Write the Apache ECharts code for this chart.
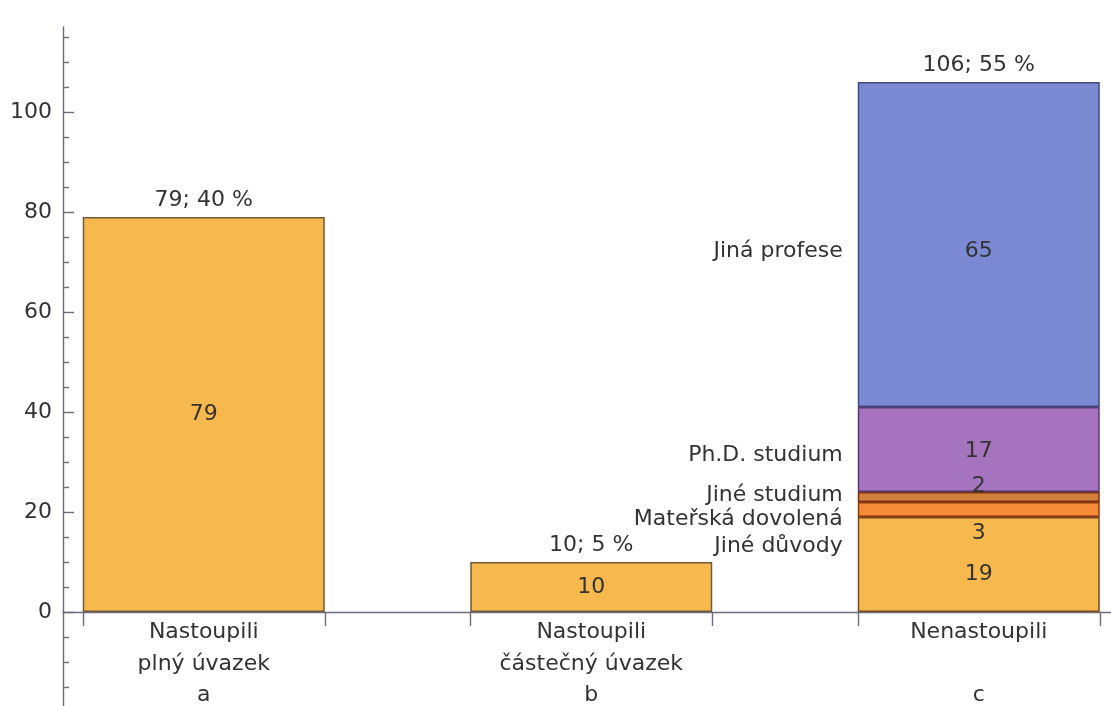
<!DOCTYPE html>
<html>
<head>
<meta charset="utf-8">
<script src="https://cdn.jsdelivr.net/npm/echarts@6/dist/echarts.min.js"></script>
<style>
  html, body { margin: 0; padding: 0; background: #ffffff; }
  #chart { width: 1111px; height: 706px; }
</style>
</head>
<body>
<div id="chart"></div>
<script>
// Category labels under the bars (three lines each)
const categories = ['Nastoupili\nplný úvazek\na', 'Nastoupili\nčástečný úvazek\nb', 'Nenastoupili\n\nc'];
// Graduates who started (full-time, part-time)
const startedValues = [79, 10];
// Reasons for not starting, stacked bottom to top
const reasonNames = ['Jiné důvody', 'Mateřská dovolená', 'Jiné studium', 'Ph.D. studium', 'Jiná profese'];
const reasonValues = [19, 3, 2, 17, 65];
// Share of each column as printed above it
const percentLabels = [40, 5, 55];
// Y axis tick labels
const yTickValues = [0, 20, 40, 60, 80, 100];

const totals = [startedValues[0], startedValues[1], reasonValues.reduce((s, v) => s + v, 0)];

// ---- layout ----
const BAND = 387.5;          // width of one category band in px
const BARS_LEFT = 10;        // left edge of the band area
const AXIS_X = 63;           // position of the vertical axis line
const TOP = 27;
const Y_MIN = -20, Y_MAX = 117;
const PX_PER_UNIT = 5;
const ABOVE_ZERO_H = Y_MAX * PX_PER_UNIT;          // plot height from 0 up to the top
const FULL_H = (Y_MAX - Y_MIN) * PX_PER_UNIT;      // vertical axis incl. the part below 0
const BAR_W = 242;
const HALF_BAR = (BAR_W / 2) / BAND;
const X_MIN = -0.5 + (AXIS_X - BARS_LEFT) / BAND;
const X_MAX = -0.5 + (1111 - BARS_LEFT) / BAND;

const FONT = 'DejaVu Sans';
const FS = 22;
const TEXT = '#333333';
const AXIS_COLOR = '#6c6c78';

const yellow = '#F7B94E';
const reasonColors = ['#F7B94E', '#F68B37', '#D4803D', '#A674BE', '#7C8AD4'];
const reasonBorders = ['#7a4a22', '#8a3a12', '#7a3214', '#5a3a6e', '#3f4a80'];
// vertical nudges keep the small segment labels apart
const numberShift = [10, 24, -11, 2, 7];
const nameShift = [-18, 10, -2, 6, 7];

const minorTicks = [];
for (let v = -15; v <= 115; v += 5) if (v % 20 !== 0) minorTicks.push(v);
const barEdges = [];
for (let i = 0; i < categories.length; i++) barEdges.push(i - HALF_BAR, i + HALF_BAR);

const chart = echarts.init(document.getElementById('chart'), null, { renderer: 'canvas' });

const barBase = {
  type: 'bar', xAxisIndex: 0, yAxisIndex: 0,
  barWidth: BAR_W, barGap: '-100%', animation: false, silent: true
};
const pad = v => ['-', '-', v];

const series = [];
series.push(Object.assign({}, barBase, {
  name: 'Nastoupili', stack: 'main',
  data: [startedValues[0], startedValues[1], '-'],
  itemStyle: { color: yellow, borderColor: '#6e5a3c', borderWidth: 1.5 },
  label: { show: true, position: 'inside', fontFamily: FONT, fontSize: FS, color: TEXT }
}));
reasonNames.forEach((name, i) => {
  series.push(Object.assign({}, barBase, {
    name: name, stack: 'main', data: pad(reasonValues[i]),
    itemStyle: { color: reasonColors[i], borderColor: reasonBorders[i], borderWidth: 1.5 },
    label: { show: true, position: 'inside', offset: [0, numberShift[i]],
      fontFamily: FONT, fontSize: FS, color: TEXT }
  }));
});
// names to the left of the stacked column
reasonNames.forEach((name, i) => {
  series.push(Object.assign({}, barBase, {
    name: name + ' ', stack: 'names', data: pad(reasonValues[i]),
    itemStyle: { color: 'rgba(0,0,0,0)', borderWidth: 0 },
    label: { show: true, position: [-15, '50%'], align: 'right', verticalAlign: 'middle',
      offset: [0, nameShift[i]], formatter: name,
      fontFamily: FONT, fontSize: FS, color: TEXT }
  }));
});
// totals with percentages above each column
series.push(Object.assign({}, barBase, {
  name: 'total', data: totals,
  itemStyle: { color: 'rgba(0,0,0,0)', borderWidth: 0 },
  label: { show: true, position: 'top', distance: 6,
    formatter: p => totals[p.dataIndex] + '; ' + percentLabels[p.dataIndex] + ' %',
    fontFamily: FONT, fontSize: FS, color: TEXT }
}));

const hiddenValueAxis = (gridIndex, min, max) => ({
  gridIndex, type: 'value', min, max, show: false,
  axisLine: { show: false, onZero: false }
});

chart.setOption({
  animation: false,
  backgroundColor: '#ffffff',
  grid: [
    // bars and category captions, bottom edge at y = 0
    { left: BARS_LEFT, width: BAND * categories.length, top: TOP, height: ABOVE_ZERO_H,
      outerBoundsMode: 'none', containLabel: false },
    // horizontal axis line with ticks at the bar edges
    { left: AXIS_X, right: 0, top: TOP, height: ABOVE_ZERO_H,
      outerBoundsMode: 'none', containLabel: false },
    // vertical axis, continuing below zero
    { left: AXIS_X, right: 0, top: TOP, height: FULL_H,
      outerBoundsMode: 'none', containLabel: false }
  ],
  xAxis: [
    {
      gridIndex: 0, type: 'category', data: categories,
      axisLine: { show: false, onZero: false },
      axisTick: { show: false },
      axisLabel: { show: true, interval: 0, margin: 5,
        fontFamily: FONT, fontSize: FS, lineHeight: 31.5, color: TEXT },
      splitLine: { show: false }
    },
    {
      gridIndex: 1, type: 'value', min: X_MIN, max: X_MAX,
      axisLine: { show: true, onZero: false, lineStyle: { color: AXIS_COLOR, width: 1.4 } },
      axisTick: { show: true, inside: false, length: 14, customValues: barEdges,
        lineStyle: { color: AXIS_COLOR, width: 1.4 } },
      axisLabel: { show: false },
      splitLine: { show: false }
    },
    hiddenValueAxis(2, X_MIN, X_MAX)
  ],
  yAxis: [
    hiddenValueAxis(0, 0, Y_MAX),
    hiddenValueAxis(1, 0, Y_MAX),
    {
      gridIndex: 2, type: 'value', position: 'left', min: Y_MIN, max: Y_MAX,
      axisLine: { show: true, onZero: false, lineStyle: { color: AXIS_COLOR, width: 1.4 } },
      axisTick: { show: true, inside: true, length: 11, customValues: yTickValues,
        lineStyle: { color: AXIS_COLOR, width: 1.4 } },
      axisLabel: { show: true, customValues: yTickValues, margin: 11,
        fontFamily: FONT, fontSize: FS, color: TEXT },
      splitLine: { show: false }
    },
    {
      gridIndex: 2, type: 'value', position: 'left', offset: 0, min: Y_MIN, max: Y_MAX,
      axisLine: { show: false, onZero: false },
      axisTick: { show: true, inside: true, length: 6, customValues: minorTicks,
        lineStyle: { color: AXIS_COLOR, width: 1.4 } },
      axisLabel: { show: false },
      splitLine: { show: false }
    }
  ],
  series: series
});
</script>
</body>
</html>
